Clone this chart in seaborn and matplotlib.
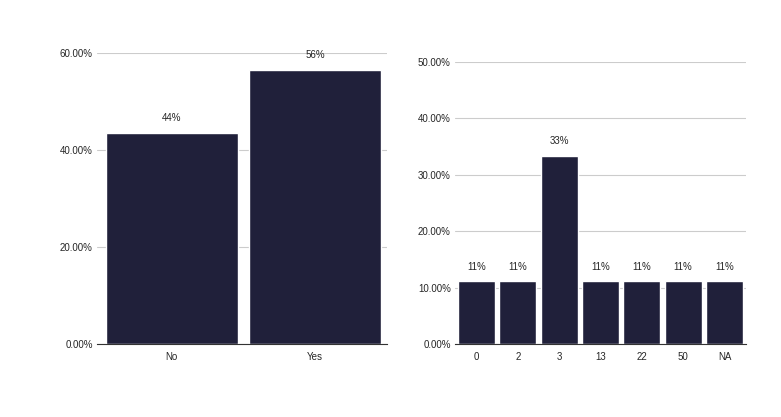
import matplotlib
matplotlib.use("Agg")
import matplotlib.pyplot as plt
import seaborn as sns
import pandas as pd
from matplotlib.ticker import FuncFormatter

left_cats = ["No", "Yes"]
left_vals = [43.5, 56.4]
left_labels = ["44%", "56%"]

right_cats = ["0", "2", "3", "13", "22", "50", "NA"]
right_vals = [11.1, 11.1, 33.3, 11.1, 11.1, 11.1, 11.1]
right_labels = ["11%", "11%", "33%", "11%", "11%", "11%", "11%"]

bar_color = "#20203a"

sns.set_style("white")
plt.rcParams["font.family"] = ["Liberation Sans", "DejaVu Sans"]

fig = plt.figure(figsize=(7.81, 4.17), dpi=100)
ax1 = fig.add_axes([97 / 781, 1 - 344 / 417, 290 / 781, 291 / 417])
ax2 = fig.add_axes([455 / 781, 1 - 344 / 417, 291 / 781, 282 / 417])


def draw(ax, cats, vals, labels, ymax, step, width):
    df = pd.DataFrame({"cat": cats, "val": vals})
    sns.barplot(data=df, x="cat", y="val", color=bar_color, saturation=1,
                width=width, ax=ax)
    ax.set_ylim(0, ymax)
    ax.set_yticks([i * step for i in range(int(ymax / step) + 1)])
    ax.yaxis.set_major_formatter(FuncFormatter(lambda v, p: f"{v:.2f}%"))
    ax.grid(axis="y", color="#cccccc", linewidth=0.8)
    ax.set_axisbelow(True)
    for s in ["top", "right", "left"]:
        ax.spines[s].set_visible(False)
    ax.spines["bottom"].set_color("#333333")
    ax.spines["bottom"].set_linewidth(0.8)
    ax.tick_params(axis="both", labelsize=7, length=0, pad=3)
    ax.tick_params(axis="x", length=3, color="#333333")
    ax.set_xlabel("")
    ax.set_ylabel("")
    for i, (v, lab) in enumerate(zip(vals, labels)):
        ax.text(i, v + ymax * 0.035, lab, ha="center", va="bottom", fontsize=7)


draw(ax1, left_cats, left_vals, left_labels, 60, 20, 0.92)
ax1.set_xlim(-0.52, 1.5)
draw(ax2, right_cats, right_vals, right_labels, 50, 10, 0.9)
ax2.set_xlim(-0.52, 6.52)

fig.savefig("out.png", dpi=100)
